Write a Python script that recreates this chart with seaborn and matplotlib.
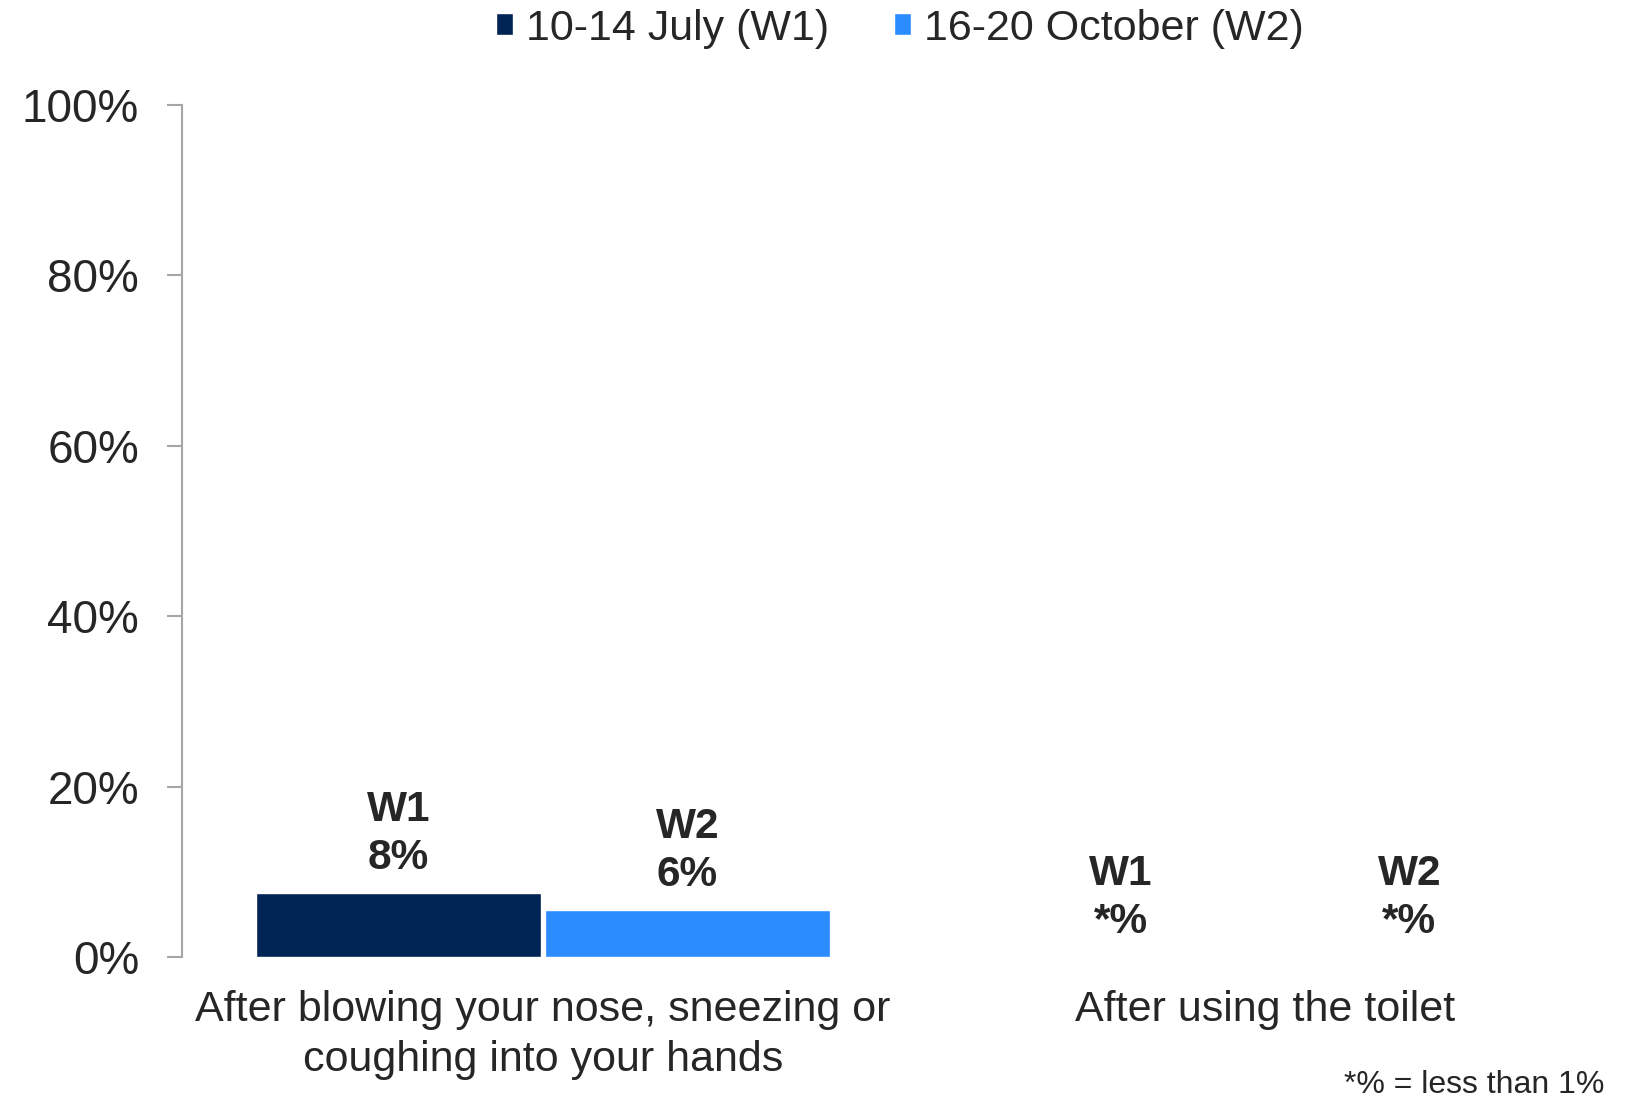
import pandas as pd
import matplotlib.pyplot as plt
import seaborn as sns
from matplotlib.patches import Patch

# values (percent of respondents)
categories = ['After blowing your nose, sneezing or\ncoughing into your hands',
              'After using the toilet']
waves = ['10-14 July (W1)', '16-20 October (W2)']
wave_tags = ['W1', 'W2']
w1_values = [7.5, 0.0]
w2_values = [5.5, 0.0]
w1_labels = ['8%', '*%']
w2_labels = ['6%', '*%']
colours = ['#002554', '#2B8CFF']

df = pd.DataFrame({
    'category': categories * 2,
    'wave': [waves[0]] * 2 + [waves[1]] * 2,
    'value': w1_values + w2_values,
})

sns.set_theme(style='white')
plt.rcParams['font.family'] = ['Liberation Sans', 'DejaVu Sans']
text_col = '#262626'

fig = plt.figure(figsize=(16.3, 10.99), dpi=100)
ax = fig.add_axes([0.1117, 0.1292, 0.8858, 0.7753])

sns.barplot(data=df, x='category', y='value', hue='wave', palette=colours,
            width=0.8, gap=0.015, saturation=1, legend=False, ax=ax)

for cont, tag, labs in zip(ax.containers, wave_tags, [w1_labels, w2_labels]):
    ax.bar_label(cont, labels=[f'{tag}\n{l}' for l in labs], padding=11,
                 fontsize=30.5, fontweight='bold', color=text_col, linespacing=1.25)

ax.set_xlim(-0.5, 1.5)
ax.set_ylim(0, 100)
ax.set_yticks(range(0, 101, 20))
ax.set_yticklabels([f'{v}%' for v in range(0, 101, 20)])
ax.set_xlabel('')
ax.set_ylabel('')
for lab in ax.get_xticklabels():
    lab.set_linespacing(1.3)

for s in ['top', 'right', 'bottom']:
    ax.spines[s].set_visible(False)
ax.spines['left'].set_color('#A6A6A6')
ax.spines['left'].set_linewidth(1.5)

ax.tick_params(axis='y', left=True, length=11, width=1.5, color='#A6A6A6',
               pad=20, labelsize=33, labelcolor=text_col)
ax.tick_params(axis='x', length=0, pad=24, labelsize=31, labelcolor=text_col)

handles = [Patch(facecolor=c) for c in colours]
fig.legend(handles, waves, loc='center', bbox_to_anchor=(0.552, 0.974), ncol=2,
           frameon=False, fontsize=31, handlelength=0.4, handleheight=0.4,
           handletextpad=0.3, columnspacing=1.5, labelcolor=text_col)

fig.text(0.984, 0.013, '*% = less than 1%', ha='right', va='center',
         fontsize=23, color=text_col)

fig.savefig('out.png', dpi=100)
